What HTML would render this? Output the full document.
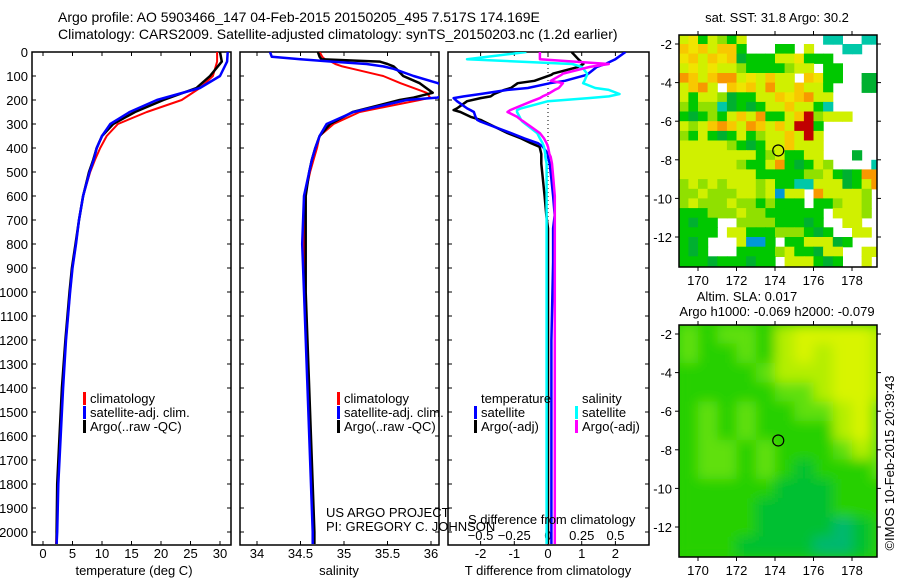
<!DOCTYPE html>
<html><head><meta charset="utf-8"><style>
html,body{margin:0;padding:0;background:#fff;}
svg{display:block;font-family:"Liberation Sans",sans-serif;}
text{fill:#000;}
</style></head><body>
<svg id="s" width="900" height="580" viewBox="0 0 900 580" xmlns="http://www.w3.org/2000/svg">
<defs>
<clipPath id="cp1"><rect x="32" y="52" width="199" height="493"/></clipPath>
<clipPath id="cp2"><rect x="240" y="52" width="199" height="493"/></clipPath>
<clipPath id="cp3"><rect x="448" y="52" width="201" height="493"/></clipPath>
<clipPath id="cm1"><rect x="679" y="35" width="198" height="232"/></clipPath>
<clipPath id="cm2"><rect x="679" y="325" width="198" height="232"/></clipPath>
<filter id="bl" x="-10%" y="-10%" width="120%" height="120%"><feGaussianBlur stdDeviation="6"/></filter>
</defs>
<text x="58" y="22" font-size="14">Argo profile: AO 5903466_147 04-Feb-2015 20150205_495 7.517S 174.169E</text>
<text x="58" y="39" font-size="14">Climatology: CARS2009. Satellite-adjusted climatology: synTS_20150203.nc (1.2d earlier)</text>
<g id="g"></g>
</svg>
<script>
// ---- profile data (depth in dbar) ----
const tDepth = [0,40,100,150,200,250,300,350,400,450,500,600,700,800,900,1000,1200,1400,1600,1800,2000,2050];
const tClim  = [29.5,29.5,28.8,26.6,23.5,17.6,12.7,10.8,9.7,8.8,8.0,6.8,6.1,5.6,5.0,4.6,3.9,3.3,2.9,2.5,2.3,2.2];
const tSat   = [31.3,31.2,30.0,26.6,19.3,14.7,11.4,10.0,9.1,8.6,7.9,6.8,6.1,5.6,5.0,4.6,3.9,3.4,3.0,2.6,2.4,2.3];
const tArgo  = [30.0,30.3,28.3,26.0,20.4,15.6,11.9,10.0,9.1,8.5,7.8,6.8,6.1,5.5,4.9,4.5,3.8,3.2,2.8,2.4,2.3,2.3];
const sDepth = [0,20,30,40,50,60,70,100,130,170,190,200,250,300,350,400,450,500,600,800,1000,1400,1700,2000,2050];
const sClim  = [34.72,34.75,34.78,34.85,34.9,34.98,35.1,35.45,35.65,35.95,35.99,35.87,35.18,34.88,34.72,34.69,34.65,34.61,34.55,34.54,34.54,34.59,34.62,34.65,34.65];
const sSat   = [34.15,34.17,34.5,34.86,35.26,35.45,35.57,35.8,36.08,36.3,36.07,35.72,35.11,34.8,34.72,34.67,34.63,34.6,34.54,34.52,34.54,34.58,34.61,34.64,34.64];
const sArgo  = [34.7,34.72,34.74,35.41,35.5,35.57,35.6,35.68,35.87,36.02,35.8,35.64,35.1,34.84,34.72,34.67,34.63,34.6,34.56,34.56,34.56,34.6,34.63,34.66,34.66];
const dDepth = [0,30,50,62,90,95,120,130,150,158,175,185,192,205,235,242,250,270,283,290,338,360,380,395,425,437,465,530,600,680,735,875,1200,1600,2050];
const dTsat  = [2.3,2.0,1.7,1.45,1.2,1.15,0.5,0.06,-0.6,-1.2,-2.0,-2.5,-2.8,-2.7,-2.4,-2.3,-2.2,-2.15,-2.1,-2.0,-1.1,-0.7,-0.3,-0.15,0,0,0.05,0.1,0.15,0.2,0.15,0.15,0.1,0.1,0.1];
const dTargo = [0.7,0.9,1.05,0.9,0.15,0.1,-0.4,-0.9,-1.1,-1.3,-1.6,-1.7,-2.0,-2.4,-2.7,-2.8,-2.6,-2.3,-2.0,-1.9,-1.2,-0.8,-0.5,-0.25,-0.2,-0.2,-0.2,-0.15,-0.1,-0.05,0,0,0,0,0];
const dSsat  = [-0.16,-0.6,0.18,0.25,0.29,0.29,0.27,0.26,0.35,0.45,0.53,0.45,0.3,0,-0.2,-0.23,-0.23,-0.21,-0.2,-0.19,-0.08,-0.06,-0.04,-0.03,-0.02,-0.02,-0.01,-0.01,-0.01,-0.01,-0.01,-0.01,-0.01,-0.01,-0.01];
const dSargo = [-0.06,-0.06,0.45,0.31,0.11,0.1,0.02,0.11,0.08,0.05,0.0,-0.04,-0.06,-0.12,-0.25,-0.28,-0.3,-0.23,-0.2,-0.18,-0.06,-0.03,-0.01,0,0.01,0.02,0.03,0.04,0.05,0.05,0.05,0.05,0.05,0.05,0.05];
const depthTicks = [0,100,200,300,400,500,600,700,800,900,1000,1100,1200,1300,1400,1500,1600,1700,1800,1900,2000];
const tTicks = [0,5,10,15,20,25,30];
const sTicks = [34,34.5,35,35.5,36];
const dtTicks = [-2,-1,0,1,2];
const dsTicks = [-0.5,-0.25,0,0.25,0.5];
const lonTicks = [170,172,174,176,178];
const latTicks = [-2,-4,-6,-8,-10,-12];
// SST grid rows (0.5 deg cells from lon 169, lat -1.5 southwards)
const sstRows = [
"yYgylgy........cc..cc","oYoyoog...gg.y...cc..","YoyoYoGgggyyYggg.....","yYyYyylgggglyy.gg....",
"OoyoOOyYyoyy.oYgg..GG","yoOy.oYoyOyyoyyg...GG","ygyylGggyyoYoOyy.....","lgllcGgGgyyoyygc.....",
"gGglgyoyOggyorlyyy...","ylyoOoyOoyoyrrg......","lgygGgyglyyoyry......","yyyyylgGgyyoyyy......",
"yyyyyyyyglyggyy...G..","yyyyyylggyOgGgyl....c","yyyyyyyygggggllygGgOO","lylylyyylyggccyyyGgyO",
"llylllyylybyy.Oyyyyl.","lylllyllglggg.gglyyl.","ggglllyllgggggg.yyyl.","gGgg..llllgggGg..yy..",
"gggg.yyggglllgGg..yy.","gGg...ybbg.ggyyyGg...","gGg...gggglyggGyy..yy","gggGgggGgg.yyygGg..y."];
// SLA grid rows (1 deg cells from lon 169, lat -1.5 southwards)
const slaRows = ["LgLLglYYYYl","LggLglYlYYl","ggggLlllYYl","gggggLLlYYl","gLgLggLLlYL","gLgLgggglYL",
"gLLgLgggLlL","gLLgLgGgggL","gggggGGGggg","ggggGGGGggg","ggggGGGGtGg","gggGGGGttGg"];
const argoLon = 174.169, argoLat = -7.517;

const NS="http://www.w3.org/2000/svg";
const G=document.getElementById('g');
function mk(tag,attrs,parent){const e=document.createElementNS(NS,tag);for(const k in attrs)e.setAttribute(k,attrs[k]);(parent||G).appendChild(e);return e;}
function txt(x,y,s,size,anchor,parent){const e=mk('text',{x:x,y:y,'font-size':size||13,'text-anchor':anchor||'start'},parent);e.textContent=s;return e;}
const yD = d => 52 + 0.24*d;
const xT = v => 43 + 5.9*v;
const xS = v => 257 + 87*(v-34);
const xDT = v => 548 + 33.7*v;
const xDS = v => 548 + 135*v;

function panel(x0,name){
  const w=(x0===448?201:199);
  const r=mk('rect',{x:x0,y:52,width:w,height:493,fill:'none',stroke:'#000','stroke-width':1.5});
  
  
  depthTicks.forEach(d=>{
    mk('line',{x1:x0,x2:x0+4,y1:yD(d),y2:yD(d),stroke:'#000'});
    mk('line',{x1:x0+w-4,x2:x0+w,y1:yD(d),y2:yD(d),stroke:'#000'});
  });
}
function xticks(arr,fx,labels,ly,name){
  arr.forEach(v=>{
    const x=fx(v);
    mk('line',{x1:x,x2:x,y1:545,y2:541,stroke:'#000'});
    mk('line',{x1:x,x2:x,y1:52,y2:56,stroke:'#000'});
    if(labels){const t=txt(x,ly,String(v),13,'middle');
      
      }
  });
}
function prof(depths,vals,fx,color,w,clip,name){
  const pts=depths.map((d,i)=>fx(vals[i]).toFixed(1)+','+yD(d).toFixed(1)).join(' ');
  const p=mk('polyline',{points:pts,fill:'none',stroke:color,'stroke-width':w,'clip-path':'url(#'+clip+')','stroke-linejoin':'round'});
  
  
}
depthTicks.forEach(d=>{const t=txt(28,yD(d)+5,String(d),13,'end');
  
  });
panel(32,'temperature-panel'); panel(240,'salinity-panel'); panel(448,'difference-panel');
xticks(tTicks,xT,true,558,'temperature');
xticks(sTicks,xS,true,558,'salinity');
xticks(dtTicks,xDT,true,558,'t-difference');
dsTicks.forEach(v=>{const t=txt(xDS(v),540,String(v).replace('-','\u2212'),13,'middle');
  
  });
const zl=mk('line',{x1:548,x2:548,y1:52,y2:545,stroke:'#000','stroke-dasharray':'1,3'});



prof(tDepth,tClim,xT,'#f00',2,'cp1','temp-climatology-line');
prof(tDepth,tArgo,xT,'#000',2.5,'cp1','temp-argo-line');
prof(tDepth,tSat,xT,'#00f',2.5,'cp1','temp-satellite-line');
prof(sDepth,sClim,xS,'#f00',2,'cp2','sal-climatology-line');
prof(sDepth,sArgo,xS,'#000',2.5,'cp2','sal-argo-line');
prof(sDepth,sSat,xS,'#00f',2.5,'cp2','sal-satellite-line');
prof(dDepth,dTargo,xDT,'#000',2.5,'cp3','tdiff-argo-line');
prof(dDepth,dTsat,xDT,'#00f',2.5,'cp3','tdiff-satellite-line');
prof(dDepth,dSsat,xDS,'#0ff',2.5,'cp3','sdiff-satellite-line');
prof(dDepth,dSargo,xDS,'#f0f',2.5,'cp3','sdiff-argo-line');

function legend(x,y,color,label){
  const b=mk('rect',{x:x,y:y-11,width:3,height:13,fill:color});
  
  
  const t=txt(x+7,y,label,13);
  
  
}
legend(83,403,'#f00','climatology');legend(83,417,'#00f','satellite-adj. clim.');legend(83,431,'#000','Argo(..raw -QC)');
legend(337,403,'#f00','climatology');legend(337,417,'#00f','satellite-adj. clim.');legend(337,431,'#000','Argo(..raw -QC)');
let h=txt(481,403,'temperature',13);
h=txt(582,403,'salinity',13);
legend(474,417,'#00f','satellite');legend(474,431,'#000','Argo(-adj)');
legend(575,417,'#0ff','satellite');legend(575,431,'#f0f','Argo(-adj)');

let a=txt(134,575,'temperature (deg C)',13,'middle');
a=txt(339,575,'salinity',13,'middle');
a=txt(548,575,'T difference from climatology',13,'middle');
a=txt(468,524,'S difference from climatology',13);
a=txt(326,517,'US ARGO PROJECT',13);
a=txt(326,531,'PI: GREGORY C. JOHNSON',13);

// ---- maps ----
const lonX = v => 698 + (v-170)*19.25;
const latY0 = (v,top) => top + 9 + (-2 - v)*19.3;
const sstCol={g:'#00c800',G:'#00b030',l:'#90e000',y:'#d0f000',Y:'#f0e400',o:'#f8c800',O:'#f89800',r:'#c00000',c:'#00c8a8',b:'#0098d8'};
const slaCol={l:'#b4ee00',Y:'#d8f400',L:'#60e010',g:'#28d000',G:'#00c030',t:'#00b870'};
function mapFrame(top,clip,name,grid,cols,cell,blur){
  const grp=mk('g',{'clip-path':'url(#'+clip+')'});
  
  
  let inner=grp;
  if(blur){mk('rect',{x:679,y:top,width:198,height:232,fill:'#28d000'},grp);inner=mk('g',{filter:'url(#bl)'},grp);}
  grid.forEach((row,ri)=>{
    for(let ci=0;ci<row.length;ci++){
      const ch=row[ci]; if(ch==='.')continue;
      const lon=169+ci*cell, lat=-1.5-ri*cell;
      const x=lonX(lon), y=latY0(lat,top);
      const c=mk('rect',{x:x.toFixed(1),y:y.toFixed(1),width:(cell*19.25+0.6).toFixed(1),height:(cell*19.3+0.6).toFixed(1),fill:cols[ch]},inner);
      
      
    }
  });
  const f=mk('rect',{x:679,y:top,width:198,height:232,fill:'none',stroke:'#000','stroke-width':1.5});
  
  
  lonTicks.forEach(v=>{const x=lonX(v);
    mk('line',{x1:x,x2:x,y1:top,y2:top-4,stroke:'#000'});
    mk('line',{x1:x,x2:x,y1:top+232,y2:top+236,stroke:'#000'});
    const t=txt(x,top+250,String(v),13,'middle');
    
    });
  latTicks.forEach(v=>{const y=latY0(v,top);
    mk('line',{x1:679,x2:675,y1:y,y2:y,stroke:'#000'});
    mk('line',{x1:877,x2:881,y1:y,y2:y,stroke:'#000'});
    const t=txt(672,y+5,String(v),13,'end');
    
    });
  const m=mk('circle',{cx:lonX(argoLon),cy:latY0(argoLat,top),r:5.5,fill:'none',stroke:'#000','stroke-width':1.2});
  
  
}
mapFrame(35,'cm1','sst-map',sstRows,sstCol,0.5,false);
mapFrame(325,'cm2','sla-map',slaRows,slaCol,1,true);
a=txt(777,22,'sat. SST: 31.8 Argo: 30.2',13,'middle');
a=txt(747,301,'Altim. SLA: 0.017',13,'middle');
a=txt(777,316,'Argo h1000: -0.069 h2000: -0.079',13,'middle');
a=txt(0,0,'\u00a9IMOS 10-Feb-2015 20:39:43',13,'middle');
a.setAttribute('transform','translate(894,463) rotate(-90)');


</script>
</body></html>
